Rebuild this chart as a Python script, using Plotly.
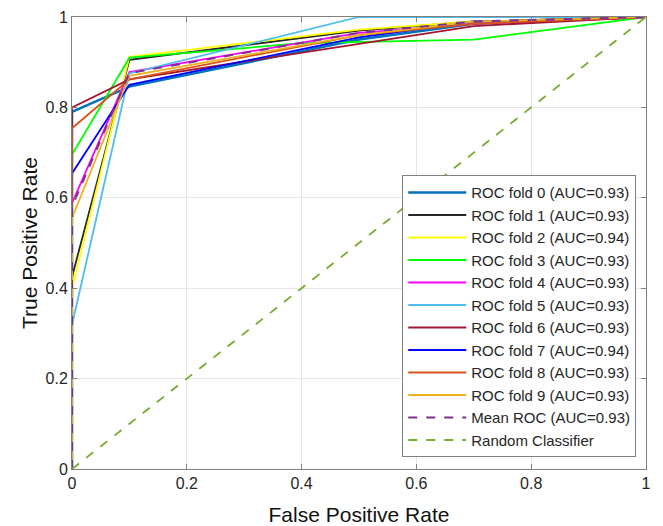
import plotly.graph_objects as go

fold_names = [f"ROC fold {i}" for i in range(10)]
fold_auc = [0.93, 0.93, 0.94, 0.93, 0.93, 0.93, 0.93, 0.94, 0.93, 0.93]
fold_colors = ["#0072BD", "#262626", "#FFFF00", "#00FF00", "#FF00FF",
               "#4DBEEE", "#A2142F", "#0000FF", "#D95319", "#EDB120"]

fold0_fpr = [0, 0, 0.1, 0.5, 0.7, 1]
fold0_tpr = [0, 0.79, 0.846, 0.95, 0.985, 1]
fold1_fpr = [0, 0, 0.1, 0.5, 0.7, 1]
fold1_tpr = [0, 0.425, 0.905, 0.97, 0.99, 1]
fold2_fpr = [0, 0, 0.1, 0.5, 0.7, 1]
fold2_tpr = [0, 0.40, 0.912, 0.972, 0.99, 1]
fold3_fpr = [0, 0, 0.1, 0.4, 0.7, 1]
fold3_tpr = [0, 0.695, 0.91, 0.942, 0.95, 1]
fold4_fpr = [0, 0, 0.1, 0.5, 0.7, 1]
fold4_tpr = [0, 0.588, 0.878, 0.965, 0.985, 1]
fold5_fpr = [0, 0, 0.1, 0.5, 1]
fold5_tpr = [0, 0.319, 0.875, 1, 1]
fold6_fpr = [0, 0, 0.1, 0.7, 1]
fold6_tpr = [0, 0.80, 0.862, 0.98, 1]
fold7_fpr = [0, 0, 0.1, 0.5, 0.7, 1]
fold7_tpr = [0, 0.654, 0.85, 0.955, 0.99, 1]
fold8_fpr = [0, 0, 0.1, 0.5, 0.7, 1]
fold8_tpr = [0, 0.754, 0.862, 0.96, 0.985, 1]
fold9_fpr = [0, 0, 0.1, 0.5, 0.7, 1]
fold9_tpr = [0, 0.555, 0.87, 0.96, 0.99, 1]

mean_fpr = [0, 0, 0.1, 0.5, 0.7, 1]
mean_tpr = [0, 0.58, 0.876, 0.965, 0.99, 1]
mean_auc = 0.93

random_fpr = [0, 1]
random_tpr = [0, 1]

tick_vals = [0, 0.2, 0.4, 0.6, 0.8, 1]
tick_text = ["0", "0.2", "0.4", "0.6", "0.8", "1"]

folds = [(fold0_fpr, fold0_tpr), (fold1_fpr, fold1_tpr), (fold2_fpr, fold2_tpr),
         (fold3_fpr, fold3_tpr), (fold4_fpr, fold4_tpr), (fold5_fpr, fold5_tpr),
         (fold6_fpr, fold6_tpr), (fold7_fpr, fold7_tpr), (fold8_fpr, fold8_tpr),
         (fold9_fpr, fold9_tpr)]

FONT = "Liberation Sans, Arial"

fig = go.Figure()
for i, (fx, fy) in enumerate(folds):
    fig.add_trace(go.Scatter(
        x=fx, y=fy, mode="lines",
        name=f"{fold_names[i]} (AUC={fold_auc[i]:.2f})",
        line=dict(color=fold_colors[i], width=2.5 if i == 0 else 1.8)))

fig.add_trace(go.Scatter(
    x=mean_fpr, y=mean_tpr, mode="lines",
    name=f"Mean ROC (AUC={mean_auc:.2f})",
    line=dict(color="#7E2F8E", width=2, dash="dash")))
fig.add_trace(go.Scatter(
    x=random_fpr, y=random_tpr, mode="lines",
    name="Random Classifier",
    line=dict(color="#77AC30", width=1.8, dash="dash")))

axis_common = dict(
    range=[0, 1], tickvals=tick_vals, ticktext=tick_text,
    showgrid=True, gridcolor="#E6E6E6", gridwidth=1,
    showline=True, linecolor="#808080", linewidth=1, mirror="ticks",
    ticks="inside", ticklen=5, tickcolor="#808080",
    zeroline=False, automargin=False,
    tickfont=dict(family=FONT, size=16, color="#262626"),
)

fig.update_layout(
    width=655, height=518,
    margin=dict(l=64, r=17, t=9, b=57),
    paper_bgcolor="white", plot_bgcolor="white",
    xaxis=dict(**axis_common,
               title=dict(text="False Positive Rate", standoff=16,
                          font=dict(family=FONT, size=21, color="#111111"))),
    yaxis=dict(**axis_common,
               title=dict(text="True Positive Rate", standoff=2,
                          font=dict(family=FONT, size=21, color="#111111"))),
    legend=dict(x=0.983, y=0.026, xanchor="right", yanchor="bottom",
                bgcolor="white", bordercolor="#808080", borderwidth=1,
                font=dict(family=FONT, size=15, color="#262626"),
                tracegroupgap=0, itemwidth=58),
    showlegend=True,
)

fig.write_html("out.html")
